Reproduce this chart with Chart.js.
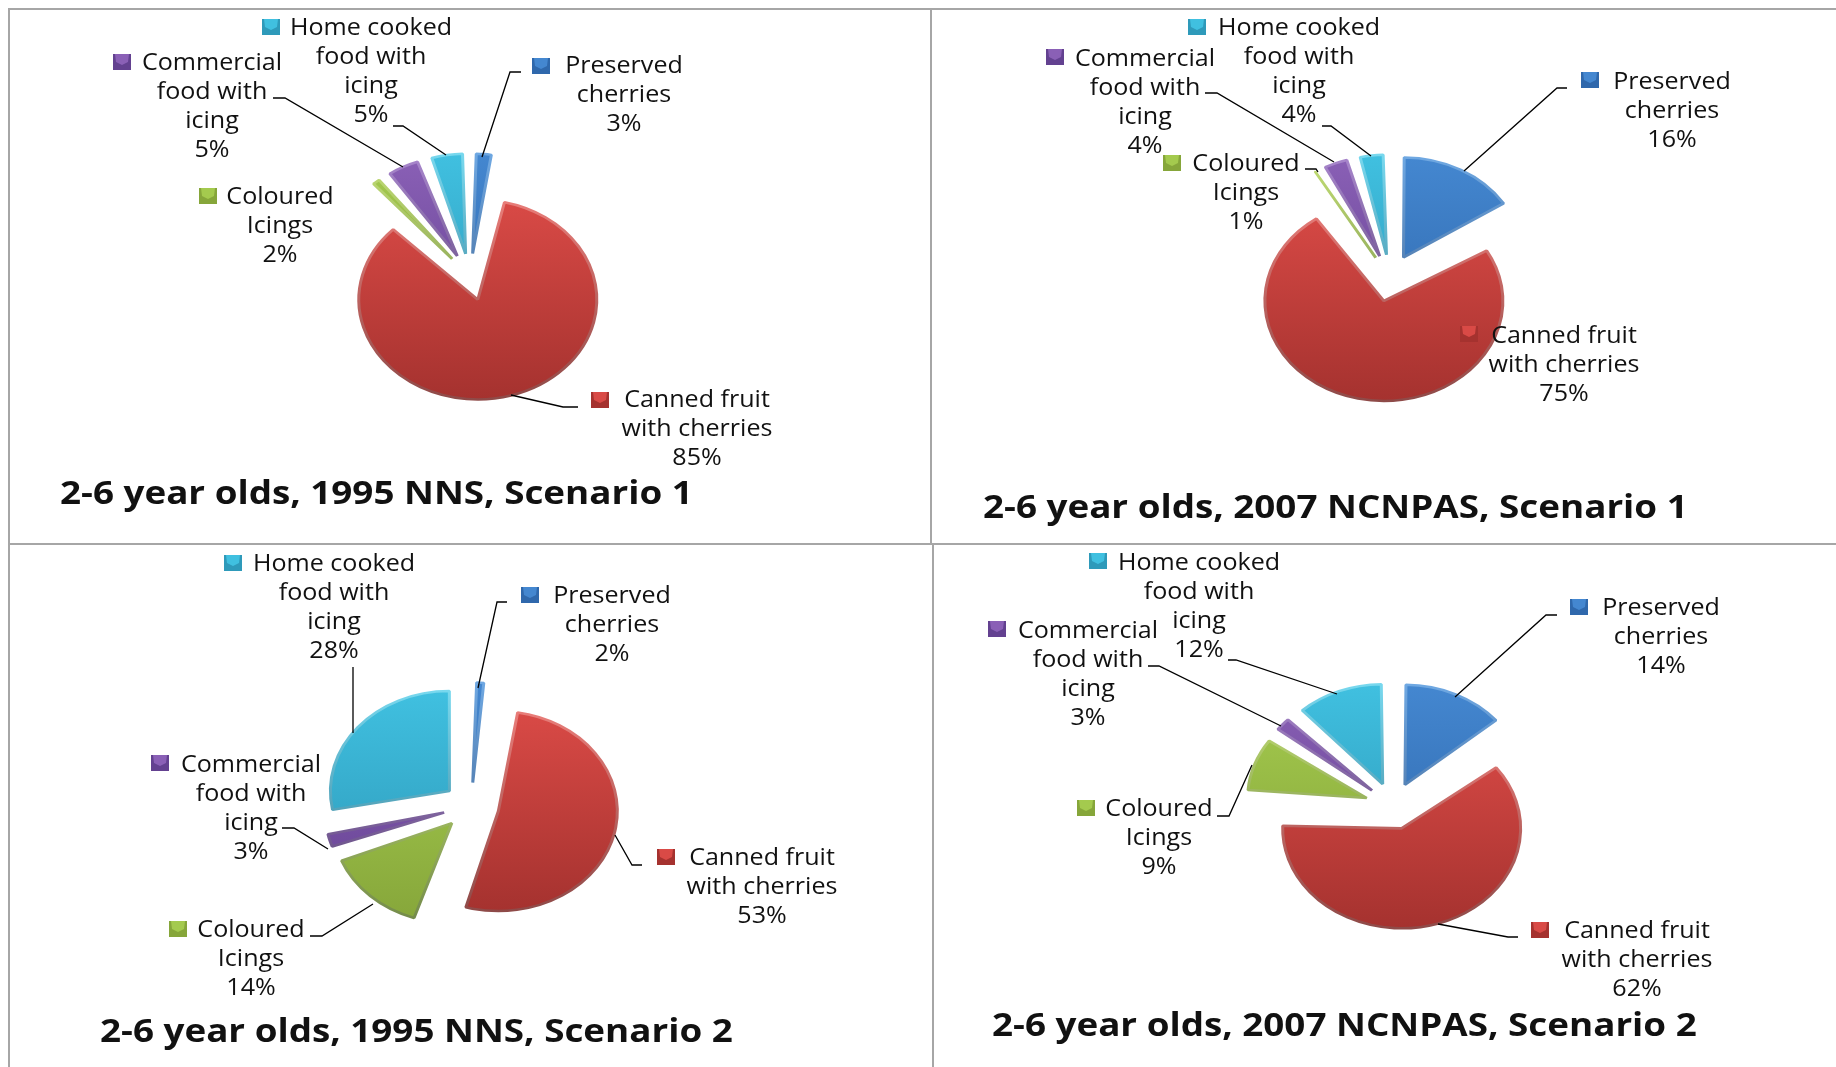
<!DOCTYPE html>
<html>
<head>
<meta charset="utf-8">
<title>Cherry intake sources</title>
<script src="https://cdn.jsdelivr.net/npm/chart.js@4"></script>
<style>
body { margin: 0; background: #fff; }
#page { position: relative; width: 1836px; height: 1067px; overflow: hidden; background: #fff; }
#page canvas { position: absolute; }
.rule { position: absolute; background: #a6a6a6; }
</style>
</head>
<body>
<div id="page">
  <div class="rule" style="left:8px;top:8px;width:1828px;height:2px"></div>
  <div class="rule" style="left:8px;top:543px;width:1828px;height:2px"></div>
  <div class="rule" style="left:8px;top:8px;width:2px;height:1059px"></div>
  <div class="rule" style="left:930px;top:8px;width:2px;height:536px"></div>
  <div class="rule" style="left:932px;top:544px;width:2px;height:523px"></div>
  <canvas id="c0"></canvas>
  <canvas id="c1"></canvas>
  <canvas id="c2"></canvas>
  <canvas id="c3"></canvas>
</div>
<script>
// data
const categories = ["Preserved cherries", "Canned fruit with cherries", "Coloured Icings", "Commercial food with icing", "Home cooked food with icing"]
const labelLines = [["Preserved", "cherries"], ["Canned fruit", "with cherries"], ["Coloured", "Icings"], ["Commercial", "food with", "icing"], ["Home cooked", "food with", "icing"]]
const nns1995s1 = [3, 85, 2, 5, 5]
const ncnpas2007s1 = [16, 75, 1, 4, 4]
const nns1995s2 = [2, 53, 14, 3, 28]
const ncnpas2007s2 = [14, 62, 9, 3, 12]
const chartTitles = ["2-6 year olds, 1995 NNS, Scenario 1", "2-6 year olds, 2007 NCNPAS, Scenario 1", "2-6 year olds, 1995 NNS, Scenario 2", "2-6 year olds, 2007 NCNPAS, Scenario 2"]

// colours: top, bottom, rim top, rim bottom
const sliceColors = [
  ["#4487d0", "#2f68ac", "#6fa8e2", "#3d5f8c"],
  ["#d94a46", "#a5322f", "#e97d79", "#8e4a48"],
  ["#a4ca4e", "#86a63a", "#c2de74", "#72894a"],
  ["#8a60b6", "#634190", "#a886cc", "#54406f"],
  ["#40c0e0", "#2e9aba", "#78d8ee", "#3b7f96"]
]

// layout, page pixels
const RADIUS = 119
const SQUASH = 0.84
const OFFSET = 28
const TEXT_W = 1.09
const TITLE_W = 1.115

const panels = [
  {
    box: [10, 10, 920, 534], values: nns1995s1, center: [470, 277], title: [60, 495],
    // centre x, first line y, marker x, marker y
    labels: [[624, 66, 532, 58], [697, 400, 591, 392], [280, 197, 199, 188], [212, 63, 113, 54], [371, 28, 262, 19]],
    leaders: [
      [[521, 72], [510, 72], [482, 157]],
      [[578, 407], [563, 407], [511, 395]],
      [[273, 98], [285, 98], [403, 167]],
      [[393, 126], [403, 126], [446, 155]]
    ]
  },
  {
    box: [932, 10, 904, 534], values: ncnpas2007s1, center: [1390, 278], title: [983, 509],
    labels: [[1672, 82, 1581, 72], [1564, 336, 1460, 326], [1246, 164, 1163, 155], [1145, 59, 1046, 49], [1299, 28, 1188, 19]],
    leaders: [
      [[1567, 88], [1557, 88], [1464, 171]],
      [[1205, 93], [1217, 93], [1334, 162]],
      [[1322, 126], [1331, 126], [1371, 156]],
      [[1305, 169], [1316, 169], [1318, 172]]
    ]
  },
  {
    box: [10, 546, 922, 521], values: nns1995s2, center: [471, 806], title: [100, 1033],
    labels: [[612, 596, 521, 587], [762, 858, 657, 849], [251, 930, 169, 921], [251, 765, 151, 755], [334, 564, 224, 555]],
    leaders: [
      [[507, 602], [497, 602], [478, 688]],
      [[353, 667], [353, 733]],
      [[282, 828], [294, 828], [328, 849]],
      [[310, 936], [322, 936], [373, 904]],
      [[642, 865], [632, 865], [615, 835]]
    ]
  },
  {
    box: [934, 546, 902, 521], values: ncnpas2007s2, center: [1393, 806], title: [992, 1027],
    labels: [[1661, 608, 1570, 599], [1637, 931, 1531, 922], [1159, 809, 1077, 800], [1088, 631, 988, 621], [1199, 563, 1089, 553]],
    leaders: [
      [[1557, 615], [1546, 615], [1455, 697]],
      [[1228, 660], [1236, 660], [1337, 694]],
      [[1148, 666], [1159, 666], [1281, 726]],
      [[1217, 816], [1229, 816], [1252, 765]],
      [[1518, 937], [1508, 937], [1438, 924]]
    ]
  }
]

function drawMarker(ctx, x, y, col) {
  const w = 18, h = 16
  ctx.fillStyle = col[1]
  ctx.fillRect(x, y, w, h)
  ctx.fillStyle = col[0]
  ctx.beginPath()
  ctx.moveTo(x + 2, y)
  ctx.lineTo(x + w - 2, y)
  ctx.lineTo(x + w - 3, y + h / 2)
  ctx.lineTo(x + w / 2, y + h - 5)
  ctx.lineTo(x + 3, y + h / 2)
  ctx.closePath()
  ctx.fill()
}

function drawText(ctx, str, x, y, k, align) {
  ctx.save()
  ctx.translate(x, y)
  ctx.scale(k, 1)
  ctx.textAlign = align
  ctx.textBaseline = "middle"
  ctx.fillText(str, 0, 0)
  ctx.restore()
}

// squashes the pie into an ellipse, then draws the labels on top
const piePanel = {
  id: "piePanel",
  afterDatasetsUpdate(chart) {
    // chart.js grows the radius of an offset slice, take that back out
    chart.getDatasetMeta(0).data.forEach(arc => {
      const fix = 1 - Math.sin(Math.min(Math.PI, arc.circumference))
      arc.outerRadius = RADIUS - OFFSET * fix
    })
  },
  beforeDatasetsDraw(chart) {
    const a = chart.chartArea
    const cx = (a.left + a.right) / 2, cy = (a.top + a.bottom) / 2
    chart.ctx.save()
    chart.ctx.translate(cx, cy)
    chart.ctx.scale(1, SQUASH)
    chart.ctx.translate(-cx, -cy)
  },
  afterDatasetsDraw(chart) {
    chart.ctx.restore()
  },
  afterDraw(chart, args, opts) {
    const ctx = chart.ctx
    const p = opts.panel
    ctx.save()
    ctx.translate(-p.box[0], -p.box[1])

    ctx.strokeStyle = "#000"
    ctx.lineWidth = 1.3
    p.leaders.forEach(l => {
      ctx.beginPath()
      l.forEach((pt, i) => i ? ctx.lineTo(pt[0], pt[1]) : ctx.moveTo(pt[0], pt[1]))
      ctx.stroke()
    })

    categories.forEach((c, i) => {
      const pos = p.labels[i]
      drawMarker(ctx, pos[2], pos[3], sliceColors[i])
      ctx.fillStyle = "#111"
      ctx.font = "23px 'Open Sans'"
      const lines = labelLines[i].concat(p.values[i] + "%")
      lines.forEach((t, j) => drawText(ctx, t, pos[0], pos[1] + j * 29, TEXT_W, "center"))
    })

    ctx.font = "bold 33px 'Open Sans'"
    drawText(ctx, opts.title, p.title[0], p.title[1], TITLE_W, "left")
    ctx.restore()
  }
}

function sliceGradient(c, stopA, stopB) {
  const a = c.chart.chartArea
  if (!a) return sliceColors[c.dataIndex][stopA]
  const cy = (a.top + a.bottom) / 2
  const g = c.chart.ctx.createLinearGradient(0, cy - RADIUS, 0, cy + RADIUS)
  g.addColorStop(0, sliceColors[c.dataIndex][stopA])
  g.addColorStop(1, sliceColors[c.dataIndex][stopB])
  return g
}

panels.forEach((p, i) => {
  const canvas = document.getElementById("c" + i)
  canvas.width = p.box[2]
  canvas.height = p.box[3]
  canvas.style.left = p.box[0] + "px"
  canvas.style.top = p.box[1] + "px"

  // padding moves the centre of the chart area onto the pie centre
  const dx = 2 * (p.center[0] - p.box[0]) - p.box[2]
  const dy = 2 * (p.center[1] - p.box[1]) - p.box[3]

  new Chart(canvas, {
    type: "pie",
    data: {
      labels: categories,
      datasets: [{
        data: p.values,
        offset: OFFSET * 4,
        clip: false,
        borderWidth: 3,
        backgroundColor: c => sliceGradient(c, 0, 1),
        borderColor: c => sliceGradient(c, 2, 3)
      }]
    },
    plugins: [piePanel],
    options: {
      responsive: false,
      animation: false,
      radius: RADIUS,
      layout: {
        padding: {
          left: Math.max(dx, 0),
          right: Math.max(-dx, 0),
          top: Math.max(dy, 0),
          bottom: Math.max(-dy, 0)
        }
      },
      plugins: {
        legend: { display: false },
        tooltip: { enabled: false },
        piePanel: { panel: p, title: chartTitles[i] }
      }
    }
  })
})
</script>
</body>
</html>
